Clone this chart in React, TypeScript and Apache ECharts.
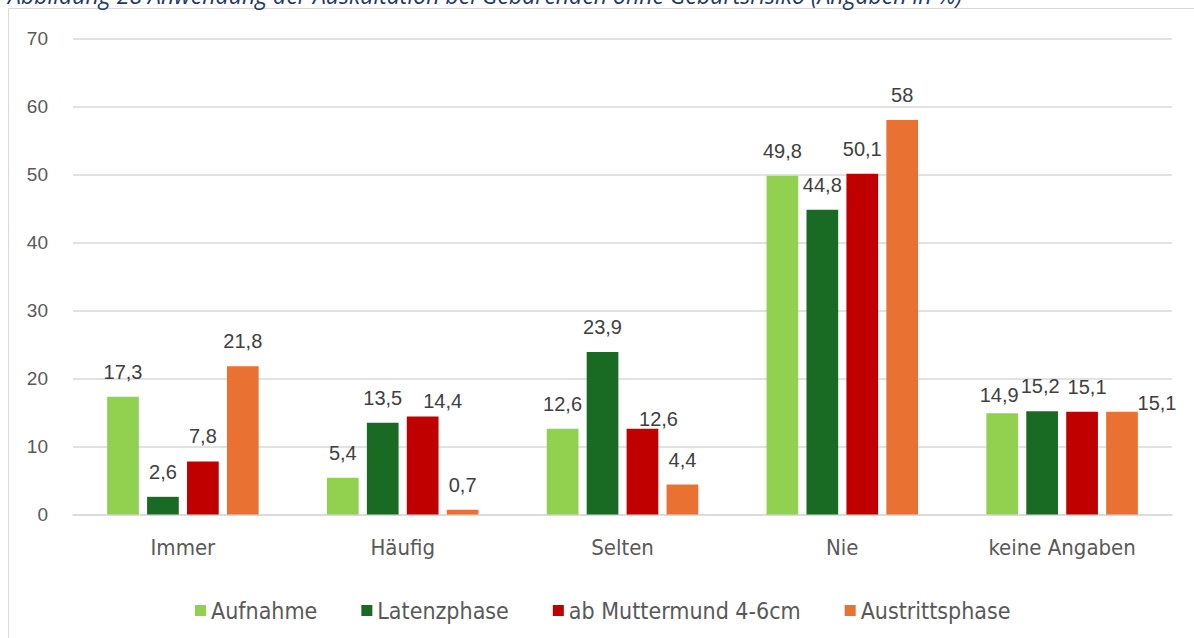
import React, { useEffect, useRef } from "react";
import * as echarts from "echarts";

const categories = ["Immer", "Häufig", "Selten", "Nie", "keine Angaben"];
const seriesNames = ["Aufnahme", "Latenzphase", "ab Muttermund 4-6cm", "Austrittsphase"];
const aufnahme = [17.3, 5.4, 12.6, 49.8, 14.9];
const latenzphase = [2.6, 13.5, 23.9, 44.8, 15.2];
const muttermund = [7.8, 14.4, 12.6, 50.1, 15.1];
const austritt = [21.8, 0.7, 4.4, 58, 15.1];
const yTicks = { min: 0, max: 70, interval: 10 };
const titleText = "Abbildung 28 Anwendung der Auskultation bei Gebärenden ohne Geburtsrisiko (Angaben in %)";

const colors = ["#92d050", "#196b24", "#c00000", "#e97132"];
// label nudges [seriesIndex][categoryIndex] -> [dx, dy]
const labelNudges: Record<string, [number, number]> = {
  "2-1": [20, 9],
  "2-2": [16, 15],
  "0-4": [-3, 7],
  "1-4": [-2, 0],
  "2-4": [5, 0],
  "3-4": [35, 16],
};

export default function App() {
  const ref = useRef<HTMLDivElement>(null);
  useEffect(() => {
    if (!ref.current) return;
    const chart = echarts.init(ref.current, null, { renderer: "svg" });
    const all = [aufnahme, latenzphase, muttermund, austritt];
    const series = all.map((vals, si) => ({
      name: seriesNames[si],
      type: "bar",
      barWidth: 31.7,
      barGap: "26%",
      itemStyle: { color: colors[si] },
      label: {
        show: true,
        position: "top",
        distance: 15,
        fontSize: 20,
        color: "#404040",
        fontFamily: "'Liberation Sans', Arial, sans-serif",
        formatter: (p: any) => String(p.value).replace(".", ","),
      },
      data: vals.map((v, ci) => {
        const n = labelNudges[`${si}-${ci}`];
        return n ? { value: v, label: { offset: n } } : { value: v };
      }),
    }));
    chart.setOption({
      animation: false,
      backgroundColor: "#ffffff",
      grid: { left: 73, right: 22, top: 38.5, bottom: 123.5, containLabel: false },
      legend: {
        left: 190,
        top: 594,
        itemWidth: 11,
        itemHeight: 11,
        itemGap: 44,
        icon: "rect",
        textStyle: {
          fontSize: 23,
          color: "#595959",
          fontFamily: "'Liberation Sans Narrow', 'DejaVu Sans Condensed', sans-serif",
        },
        data: seriesNames,
      },
      xAxis: {
        type: "category",
        data: categories,
        axisLine: { show: true, lineStyle: { color: "#d9d9d9", width: 1.5 } },
        axisTick: { show: false },
        axisLabel: {
          margin: 22,
          fontSize: 22,
          color: "#595959",
          fontFamily: "'Liberation Sans Narrow', 'DejaVu Sans Condensed', sans-serif",
        },
      },
      yAxis: {
        type: "value",
        min: yTicks.min,
        max: yTicks.max,
        interval: yTicks.interval,
        axisLine: { show: false },
        axisTick: { show: false },
        splitLine: { lineStyle: { color: "#d9d9d9", width: 1.5 } },
        axisLabel: {
          margin: 25,
          fontSize: 19,
          color: "#595959",
          fontFamily: "'Liberation Sans', Arial, sans-serif",
        },
      },
      graphic: [
        {
          type: "rect",
          shape: { x: 8.5, y: 8.5, width: 1200, height: 700 },
          style: { fill: "none", stroke: "#d9d9d9", lineWidth: 1 },
          silent: true,
        },
        {
          type: "text",
          left: 8,
          top: -17,
          style: {
            text: titleText,
            fontSize: 23,
            fontStyle: "italic",
            fill: "#1f3864",
            fontFamily: "'Open Sans', 'Noto Sans', sans-serif",
          },
        },
      ],
      series,
    });
    return () => chart.dispose();
  }, []);
  return (
    <div
      ref={ref}
      style={{ position: "fixed", left: 0, top: 0, width: 1194, height: 638 }}
    />
  );
}
